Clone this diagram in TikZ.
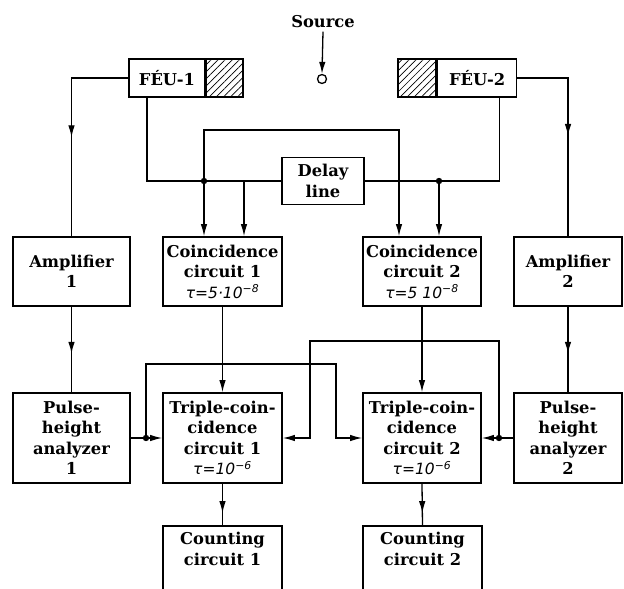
\documentclass[tikz,border=0pt]{standalone}
\usepackage{fontspec}
\setmainfont{DejaVu Serif}
\newfontfamily\hand{DejaVu Sans}
\usetikzlibrary{arrows.meta,patterns.meta,decorations.markings}
\newcommand{\tauf}{\hand\itshape\mdseries\fontsize{15.5}{20}\selectfont}
\tikzset{
  txt/.style={font=\bfseries\fontsize{16.3}{20.5}\selectfont},
  box/.style={txt,draw,line width=1.6pt,align=center,inner sep=0pt},
  wire/.style={line width=1.3pt},
  tip/.tip={Latex[length=12pt,width=6.5pt]},
  arr/.style={wire,-tip},
  midarr/.style={wire,postaction={decorate},decoration={markings,mark=at position #1 with {\arrow{tip}}}},
  midarr/.default=0.5,
  hatchbox/.style={draw,line width=1.6pt,inner sep=0pt,pattern={Lines[angle=45,distance=5pt,line width=0.7pt]}},
  jdot/.style={fill=black}
}
\begin{document}
\begin{tikzpicture}[x=1pt,y=-1pt]
\useasboundingbox (0,0) rectangle (624,589);
\coordinate (bot) at (0,600);
% source
\node[txt] (src) at (323,22) {Source};
\node[circle,draw,line width=1.3pt,minimum size=9pt,inner sep=0pt] (srcc) at (322,79) {};
\draw[arr] (src.south) -- (srcc.north);
% photomultipliers
\node[box,minimum width=76pt,minimum height=38pt] (feu1) at (167,78) {FÉU-1};
\node[hatchbox,minimum width=37pt,minimum height=38pt,anchor=west] (feu1h) at (feu1.east) {};
\node[hatchbox,minimum width=38pt,minimum height=38pt] (feu2h) at (417,78) {};
\node[box,minimum width=79pt,minimum height=38pt,anchor=west] (feu2) at (feu2h.east) {FÉU-2};
% delay line
\node[box,minimum width=82pt,minimum height=47pt] (delay) at (323,181) {Delay\\line};
% second row
\node[box,minimum width=117pt,minimum height=69pt] (amp1) at (71.5,271.5) {Amplifier\\1};
\node[box,minimum width=119pt,minimum height=69pt] (coinc1) at (222.5,271.5) {Coincidence\\circuit 1\\{\tauf τ=5·10\textsuperscript{−8}}};
\node[box,minimum width=118pt,minimum height=69pt] (coinc2) at (422,271.5) {Coincidence\\circuit 2\\{\tauf τ=5 10\textsuperscript{−8}}};
\node[box,minimum width=108pt,minimum height=69pt] (amp2) at (568,271.5) {Amplifier\\2};
% third row
\node[box,minimum width=117pt,minimum height=90pt] (ana1) at (71.5,438) {Pulse-\\height\\analyzer\\1};
\node[box,minimum width=119pt,minimum height=90pt] (tri1) at (222.5,438) {Triple-coin-\\cidence\\circuit 1\\{\tauf τ=10\textsuperscript{−6}}};
\node[box,minimum width=118pt,minimum height=90pt] (tri2) at (422,438) {Triple-coin-\\cidence\\circuit 2\\{\tauf τ=10\textsuperscript{−6}}};
\node[box,minimum width=108pt,minimum height=90pt] (ana2) at (568,438) {Pulse-\\height\\analyzer\\2};
% counting circuits (open at the bottom)
\node[txt,align=center,inner sep=0pt,minimum width=119pt,minimum height=46pt] (cnt1) at (222.5,549) {Counting\\circuit 1};
\node[txt,align=center,inner sep=0pt,minimum width=119pt,minimum height=46pt] (cnt2) at (422.5,549) {Counting\\circuit 2};
\draw[line width=1.6pt] (cnt1.north west |- bot) -- (cnt1.north west) -- (cnt1.north east) -- (cnt1.north east |- bot);
\draw[line width=1.6pt] (cnt2.north west |- bot) -- (cnt2.north west) -- (cnt2.north east) -- (cnt2.north east |- bot);
% junctions
\coordinate (j1) at (204,181);
\coordinate (j1b) at (244,181);
\coordinate (j2) at (439,181);
\coordinate (t1) at (204,130);
\coordinate (t2) at (399,130);
\coordinate (j3) at (146,438);
\coordinate (j4) at (499,438);
\coordinate (u1) at (146,364);
\coordinate (u2) at (336,364);
\coordinate (v1) at (499,341);
\coordinate (v2) at (310,341);
% wiring top
\draw[midarr=0.54] (feu1.west) -| (amp1.north);
\draw[midarr=0.52] (feu2.east) -| (amp2.north);
\draw[wire] ([xshift=-20pt]feu1.south) |- (delay.west);
\draw[wire] ([xshift=22.5pt]feu2.south) |- (delay.east);
\draw[arr] (j1) -- (j1 |- coinc1.north);
\draw[arr] (j1) -- (t1) -- (t2) -- (t2 |- coinc2.north);
\draw[arr] (j1b) -- (j1b |- coinc1.north);
\draw[arr] (j2) -- (j2 |- coinc2.north);
\fill[jdot] (j1) circle (3.2pt);
\fill[jdot] (j2) circle (3.2pt);
% middle
\draw[midarr=0.55] (amp1.south) -- (ana1.north);
\draw[midarr=0.55] (amp2.south) -- (ana2.north);
\draw[arr] (coinc1.south) -- (tri1.north);
\draw[arr] (coinc2.south) -- (tri2.north);
% lower cross wiring
\draw[arr] (ana1.east) -- (tri1.west);
\draw[arr] (j3) -- (u1) -- (u2) -- (u2 |- tri2.west) -- (tri2.west);
\draw[arr] (ana2.west) -- (tri2.east);
\draw[arr] (j4) -- (v1) -- (v2) -- (v2 |- tri1.east) -- (tri1.east);
\fill[jdot] (j3) circle (3.2pt);
\fill[jdot] (j4) circle (3.2pt);
% to counters
\draw[midarr=0.7] (tri1.south) -- (cnt1.north);
\draw[midarr=0.7] (tri2.south) -- (cnt2.north);
\end{tikzpicture}
\end{document}
